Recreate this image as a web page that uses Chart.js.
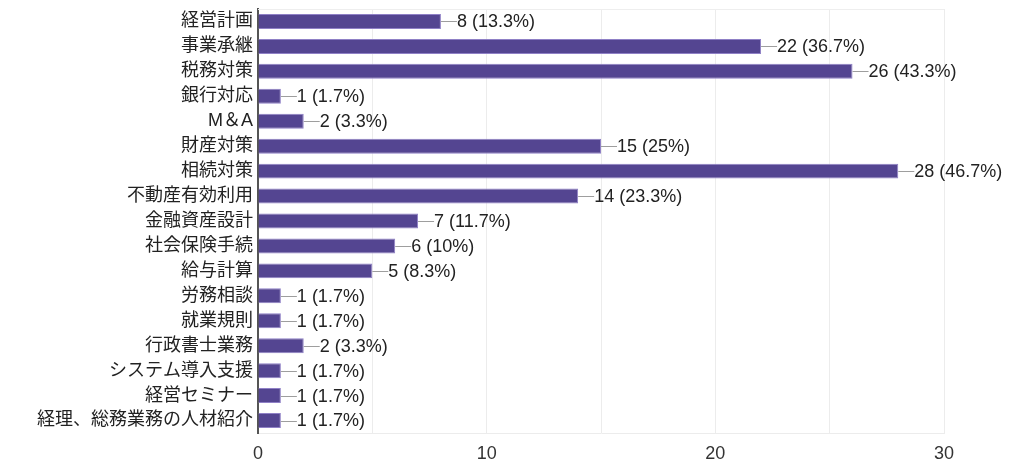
<!DOCTYPE html>
<html><head><meta charset="utf-8">
<script src="https://cdn.jsdelivr.net/npm/chart.js@4/dist/chart.umd.min.js"></script>
<style>html,body{margin:0;padding:0;background:#fff;}#wrap{width:1024px;height:473px;}</style>
</head><body><div id="wrap"><canvas id="c" width="1024" height="473"></canvas></div>
<script>
const categories = ["経営計画","事業承継","税務対策","銀行対応","M＆A","財産対策","相続対策","不動産有効利用","金融資産設計","社会保険手続","給与計算","労務相談","就業規則","行政書士業務","システム導入支援","経営セミナー","経理、総務業務の人材紹介"];
const counts = [8,22,26,1,2,15,28,14,7,6,5,1,1,2,1,1,1];
const percents = ["13.3%","36.7%","43.3%","1.7%","3.3%","25%","46.7%","23.3%","11.7%","10%","8.3%","1.7%","1.7%","3.3%","1.7%","1.7%","1.7%"];
const xTickLabels = ["0","10","20","30"];

const FONT = '"Liberation Sans","Noto Sans CJK JP",Arial,sans-serif';

const labelPlugin = {
  id: 'barLabels',
  afterDatasetsDraw(chart) {
    const ctx = chart.ctx;
    const meta = chart.getDatasetMeta(0);
    ctx.save();
    meta.data.forEach((bar, i) => {
      const x = bar.x, y = bar.y;
      ctx.strokeStyle = '#9e9e9e';
      ctx.lineWidth = 1;
      ctx.beginPath();
      ctx.moveTo(x, Math.round(y) + 0.5);
      ctx.lineTo(x + 16, Math.round(y) + 0.5);
      ctx.stroke();
      ctx.fillStyle = '#222';
      ctx.font = '18px ' + FONT;
      ctx.textBaseline = 'middle';
      ctx.textAlign = 'left';
      ctx.fillText(counts[i] + ' (' + percents[i] + ')', x + 16, y + 1);
    });
    ctx.restore();
  },
  beforeDatasetsDraw(chart) {
    const {ctx, chartArea: a} = chart;
    ctx.save();
    ctx.strokeStyle = '#eeeeee';
    ctx.lineWidth = 1;
    ctx.beginPath();
    ctx.moveTo(a.left, a.top + 0.5);
    ctx.lineTo(a.right, a.top + 0.5);
    ctx.stroke();
    ctx.restore();
  }
};

new Chart(document.getElementById('c'), {
  type: 'bar',
  data: {
    labels: categories,
    datasets: [{
      data: counts,
      backgroundColor: '#544591',
      borderColor: '#8f80c6',
      borderWidth: 1,
      categoryPercentage: 0.6,
      barPercentage: 1.0
    }]
  },
  options: {
    indexAxis: 'y',
    responsive: false,
    animation: false,
    devicePixelRatio: 1,
    layout: { padding: { left: 0, right: 80, top: 9, bottom: 0 } },
    plugins: { legend: { display: false }, tooltip: { enabled: false } },
    scales: {
      x: {
        min: 0, max: 30,
        ticks: {
          stepSize: 5,
          color: '#333',
          font: { size: 18, family: FONT },
          padding: 10,
          maxRotation: 0,
          autoSkip: false,
          callback: (v) => (v % 10 === 0 ? xTickLabels[v / 10] : '')
        },
        grid: { color: '#ececec', drawTicks: false },
        border: { color: '#ececec', width: 1 },
        afterFit(s) { s.height = 40; }
      },
      y: {
        ticks: {
          color: '#222',
          font: { size: 18, family: FONT },
          padding: 5,
          autoSkip: false
        },
        grid: { display: false, drawTicks: false },
        border: { color: '#555', width: 2 },
        afterFit(s) { s.width = 258; s.paddingTop = 0; s.paddingBottom = 0; }
      }
    }
  },
  plugins: [labelPlugin]
});
</script></body></html>
